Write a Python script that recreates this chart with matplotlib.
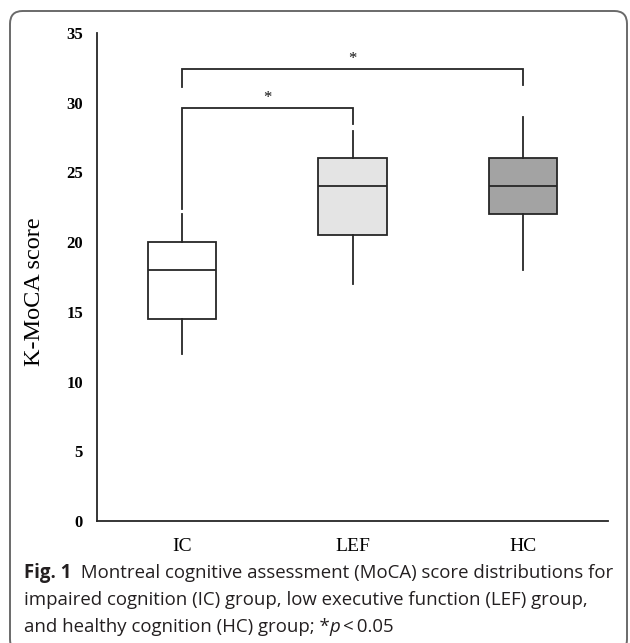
import matplotlib
matplotlib.use('Agg')
import matplotlib.pyplot as plt
from matplotlib.patches import FancyBboxPatch


# data
groups = ['IC', 'LEF', 'HC']
whisker_low = [12, 17, 18]
q1 = [14.5, 20.5, 22]
median = [18, 24, 24]
q3 = [20, 26, 26]
whisker_high = [22, 28, 29]
box_colors = ['#ffffff', '#e4e4e4', '#a3a3a3']

yticks = [0, 5, 10, 15, 20, 25, 30, 35]

# significance brackets: (group a, group b, top, leg bottom a, leg bottom b)
brackets = [(1, 2, 29.6, 22.4, 28.5), (1, 3, 32.4, 31.1, 31.3)]
bracket_labels = ['*', '*']

W, H = 630, 643
fig = plt.figure(figsize=(W / 100, H / 100), dpi=100)

# plot area in pixels
ax_l, ax_r, ax_t, ax_b = 97, 608, 33, 521
ax = fig.add_axes([ax_l / W, 1 - ax_b / H, (ax_r - ax_l) / W, (ax_b - ax_t) / H])

stats = []
for i in range(len(groups)):
    stats.append({'label': groups[i], 'whislo': whisker_low[i], 'q1': q1[i],
                  'med': median[i], 'q3': q3[i], 'whishi': whisker_high[i],
                  'fliers': []})

lc = '#262626'
bp = ax.bxp(stats, positions=[1, 2, 3], widths=0.4, patch_artist=True,
            showcaps=False, showfliers=False,
            boxprops=dict(edgecolor=lc, linewidth=1.3),
            medianprops=dict(color=lc, linewidth=1.3),
            whiskerprops=dict(color=lc, linewidth=1.3))
for patch, c in zip(bp['boxes'], box_colors):
    patch.set_facecolor(c)

for (a, b, top, la, lb), lab in zip(brackets, bracket_labels):
    ax.plot([a, a, b, b], [la, top, top, lb], color=lc, lw=1.3, solid_joinstyle='miter')
    ax.text((a + b) / 2, top + 0.75, lab, ha='center', va='center',
            family='Liberation Serif', fontsize=12, color='#111111')

ax.set_xlim(0.5, 3.5)
ax.set_ylim(0, 35)
ax.set_yticks(yticks)
ax.set_yticklabels([str(t) for t in yticks], family='Liberation Serif',
                   fontweight='bold', fontsize=12)
ax.set_xticks([1, 2, 3])
ax.set_xticklabels(groups, family='Liberation Serif', fontsize=14)
ax.tick_params(axis='y', length=0, pad=10)
ax.tick_params(axis='x', length=0, pad=12)
for s in ['top', 'right']:
    ax.spines[s].set_visible(False)
for s in ['left', 'bottom']:
    ax.spines[s].set_color(lc)
    ax.spines[s].set_linewidth(1.3)

ax.set_ylabel('K-MoCA score', family='Liberation Serif', fontsize=17.5)
ax.yaxis.set_label_coords((45 - ax_l) / (ax_r - ax_l), (ax_b - 292) / (ax_b - ax_t))

# rounded frame around the figure
frame = FancyBboxPatch((10 / W, 1 - 652 / H), 617 / W, 641 / H,
                       boxstyle='round,pad=0,rounding_size=0.02',
                       transform=fig.transFigure, fill=False,
                       edgecolor='#6a6a6a', linewidth=1.4)
fig.patches.append(frame)

# caption
cap_font = 'Open Sans'
renderer = fig.canvas.get_renderer()

line1 = [('Fig. 1', 'bold', 'normal'),
         ('  Montreal cognitive assessment (MoCA) score distributions for', 'normal', 'normal')]
line2 = [('impaired cognition (IC) group, low executive function (LEF) group,', 'normal', 'normal')]
line3 = [('and healthy cognition (HC) group; *', 'normal', 'normal'),
         ('p', 'normal', 'italic'),
         ('\u2009<\u20090.05', 'normal', 'normal')]


def write_line(pieces, x_px, base_px, size):
    x = x_px / W
    for txt, weight, style in pieces:
        t = fig.text(x, 1 - base_px / H, txt, family=cap_font, fontsize=size,
                     fontweight=weight, fontstyle=style, va='baseline', ha='left',
                     color='#231f20')
        bb = t.get_window_extent(renderer=renderer)
        x = bb.x1 / W
    return x * W


# fit the first caption line to the width seen in the reference
probe = write_line(line1, 24, -100, 10) - 24
cap_size = 10 * (612 - 24) / probe
for t in list(fig.texts):
    t.remove()

write_line(line1, 24, 578, cap_size)
write_line(line2, 24, 605, cap_size)
write_line(line3, 24, 632, cap_size)

fig.savefig('out.png', dpi=100)
